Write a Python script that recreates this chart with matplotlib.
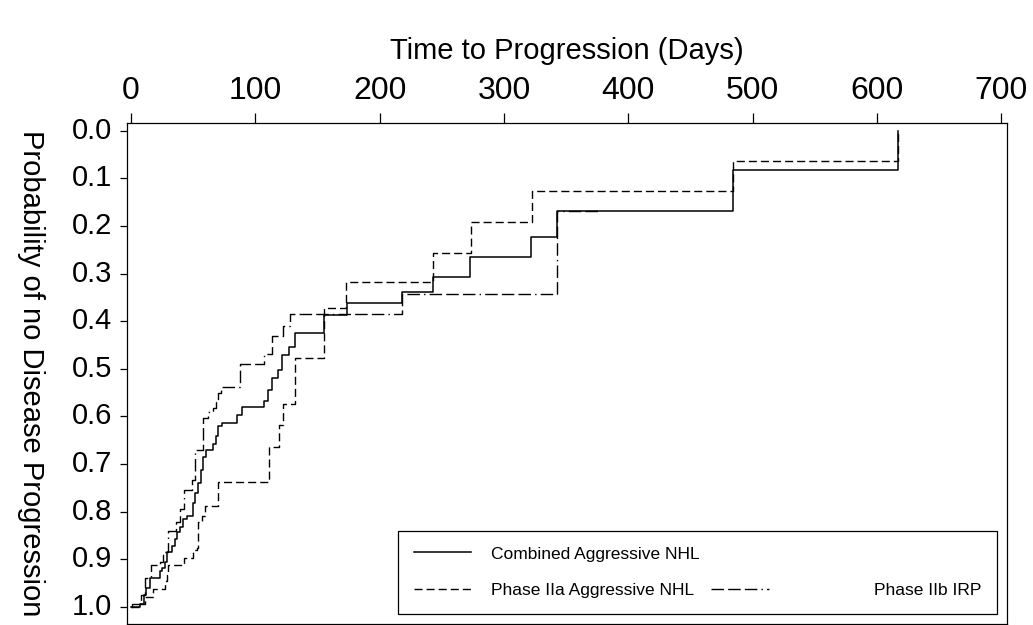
import matplotlib
matplotlib.use('Agg')
import matplotlib.pyplot as plt
from matplotlib.lines import Line2D
from matplotlib.legend_handler import HandlerLine2D

plt.rcParams['font.family'] = ['Liberation Sans', 'DejaVu Sans']

# Kaplan-Meier step data: day of each step and survival after it
combined_days = [0, 7, 10, 12, 15, 23, 25, 27, 29, 33, 35, 37, 39, 42, 45,
                 50, 51.5, 54, 56, 58, 60, 66, 68, 70, 73, 85.5, 89, 107,
                 110.5, 113, 118.5, 121.5, 127.4, 132, 155.3, 173.5, 218,
                 243, 273, 322, 342.5, 484.6, 617.3]
combined_surv = [1.0, 0.993, 0.975, 0.960, 0.939, 0.925, 0.919, 0.905, 0.884,
                 0.872, 0.857, 0.843, 0.833, 0.816, 0.809, 0.781, 0.761, 0.740,
                 0.713, 0.685, 0.671, 0.658, 0.641, 0.620, 0.613, 0.596, 0.581,
                 0.568, 0.544, 0.520, 0.503, 0.472, 0.455, 0.424, 0.388, 0.3625,
                 0.338, 0.3075, 0.266, 0.224, 0.168, 0.083, 0.0]

iia_days = [0, 7, 11, 18, 27.4, 28.7, 30, 42.9, 50, 52.8, 54.2, 56.9, 59.5,
            70.3, 111, 119, 122.5, 131.9, 155.3, 173, 243.3, 273.3, 322.4,
            484.6, 617.3]
iia_surv = [1.0, 0.993, 0.980, 0.963, 0.946, 0.932, 0.912, 0.897, 0.881,
            0.877, 0.822, 0.809, 0.788, 0.737, 0.665, 0.617, 0.573, 0.478,
            0.373, 0.318, 0.256, 0.192, 0.1256, 0.064, 0.0]

irp_days = [0, 0.5, 8, 11, 16, 23, 26, 29.5, 36, 39.4, 42.5, 48.8, 51.5, 58,
            62, 66, 68, 70.3, 72, 88, 107, 113, 122, 128, 218, 342.5, 377]
irp_surv = [1.0, 0.993, 0.975, 0.939, 0.912, 0.905, 0.884, 0.840, 0.822,
            0.795, 0.754, 0.733, 0.671, 0.603, 0.59, 0.582, 0.569, 0.551,
            0.538, 0.489, 0.469, 0.431, 0.4105, 0.384, 0.342, 0.168, 0.168]

x_ticks = [0, 100, 200, 300, 400, 500, 600, 700]
y_ticks = [0.0, 0.1, 0.2, 0.3, 0.4, 0.5, 0.6, 0.7, 0.8, 0.9, 1.0]


class OffsetLineHandler(HandlerLine2D):
    """Legend line drawn further left inside its column."""

    def __init__(self, shift, **kw):
        super().__init__(**kw)
        self.shift = shift

    def create_artists(self, legend, orig_handle, xdescent, ydescent,
                       width, height, fontsize, trans):
        return super().create_artists(legend, orig_handle,
                                      xdescent + self.shift * fontsize,
                                      ydescent, width, height, fontsize, trans)


fig = plt.figure(figsize=(10.33, 6.25), dpi=100)
ax = fig.add_axes([0.1227, 0.0024, 0.8524, 0.8013])

short_dash = (0, (5.8, 2.9))
long_dash_dot = (0, (9.0, 3.0, 9.0, 3.0, 9.0, 3.0, 1.0, 3.0))

l_iia, = ax.plot(iia_days, iia_surv, drawstyle='steps-post', color='black',
                 lw=1.0, linestyle=short_dash)
l_irp, = ax.plot(irp_days, irp_surv, drawstyle='steps-post', color='black',
                 lw=1.0, linestyle=long_dash_dot)
l_comb, = ax.plot(combined_days, combined_surv, drawstyle='steps-post',
                  color='black', lw=1.1)

ax.set_xlim(-3.5, 705)
ax.set_ylim(1.0347, -0.0168)

ax.set_xticks(x_ticks)
ax.set_xticklabels([str(t) for t in x_ticks])
ax.set_yticks(y_ticks)
ax.set_yticklabels([f'{t:.1f}' for t in y_ticks], va='center')

ax.tick_params(axis='x', top=True, bottom=False, labeltop=True,
               labelbottom=False, length=7.2, width=0.9, pad=4.8,
               labelsize=23, direction='out')
ax.tick_params(axis='y', length=5.3, width=0.9, pad=5.3, labelsize=21,
               direction='out')
for sp in ax.spines.values():
    sp.set_linewidth(0.9)

ax.xaxis.set_label_position('top')
ax.set_xlabel('Time to Progression (Days)', fontsize=21)
ax.xaxis.set_label_coords(0.5, 1.143)
ax.xaxis.label.set_verticalalignment('center')

ax.set_ylabel('Probability of no Disease Progression', fontsize=21,
              rotation=270)
ax.yaxis.set_label_coords(-0.109, 0.5)
ax.yaxis.label.set_verticalalignment('center')
ax.yaxis.label.set_horizontalalignment('center')

blank = Line2D([], [], linestyle='none')
leg = ax.legend([l_comb, l_iia, blank, l_irp],
                ['Combined Aggressive NHL', 'Phase IIa Aggressive NHL', ' ',
                 'Phase IIb IRP'],
                ncol=2, mode='expand', loc='lower left',
                bbox_to_anchor=(0.308, 0.019, 0.68, 0.166), borderaxespad=0,
                handlelength=3.3, handletextpad=1.15, labelspacing=1.25,
                borderpad=0.9, fontsize=12.5, fancybox=False,
                edgecolor='black', framealpha=1,
                handler_map={l_irp: OffsetLineHandler(4.9)})
leg.get_frame().set_linewidth(0.9)

fig.savefig('out.png', dpi=100)
